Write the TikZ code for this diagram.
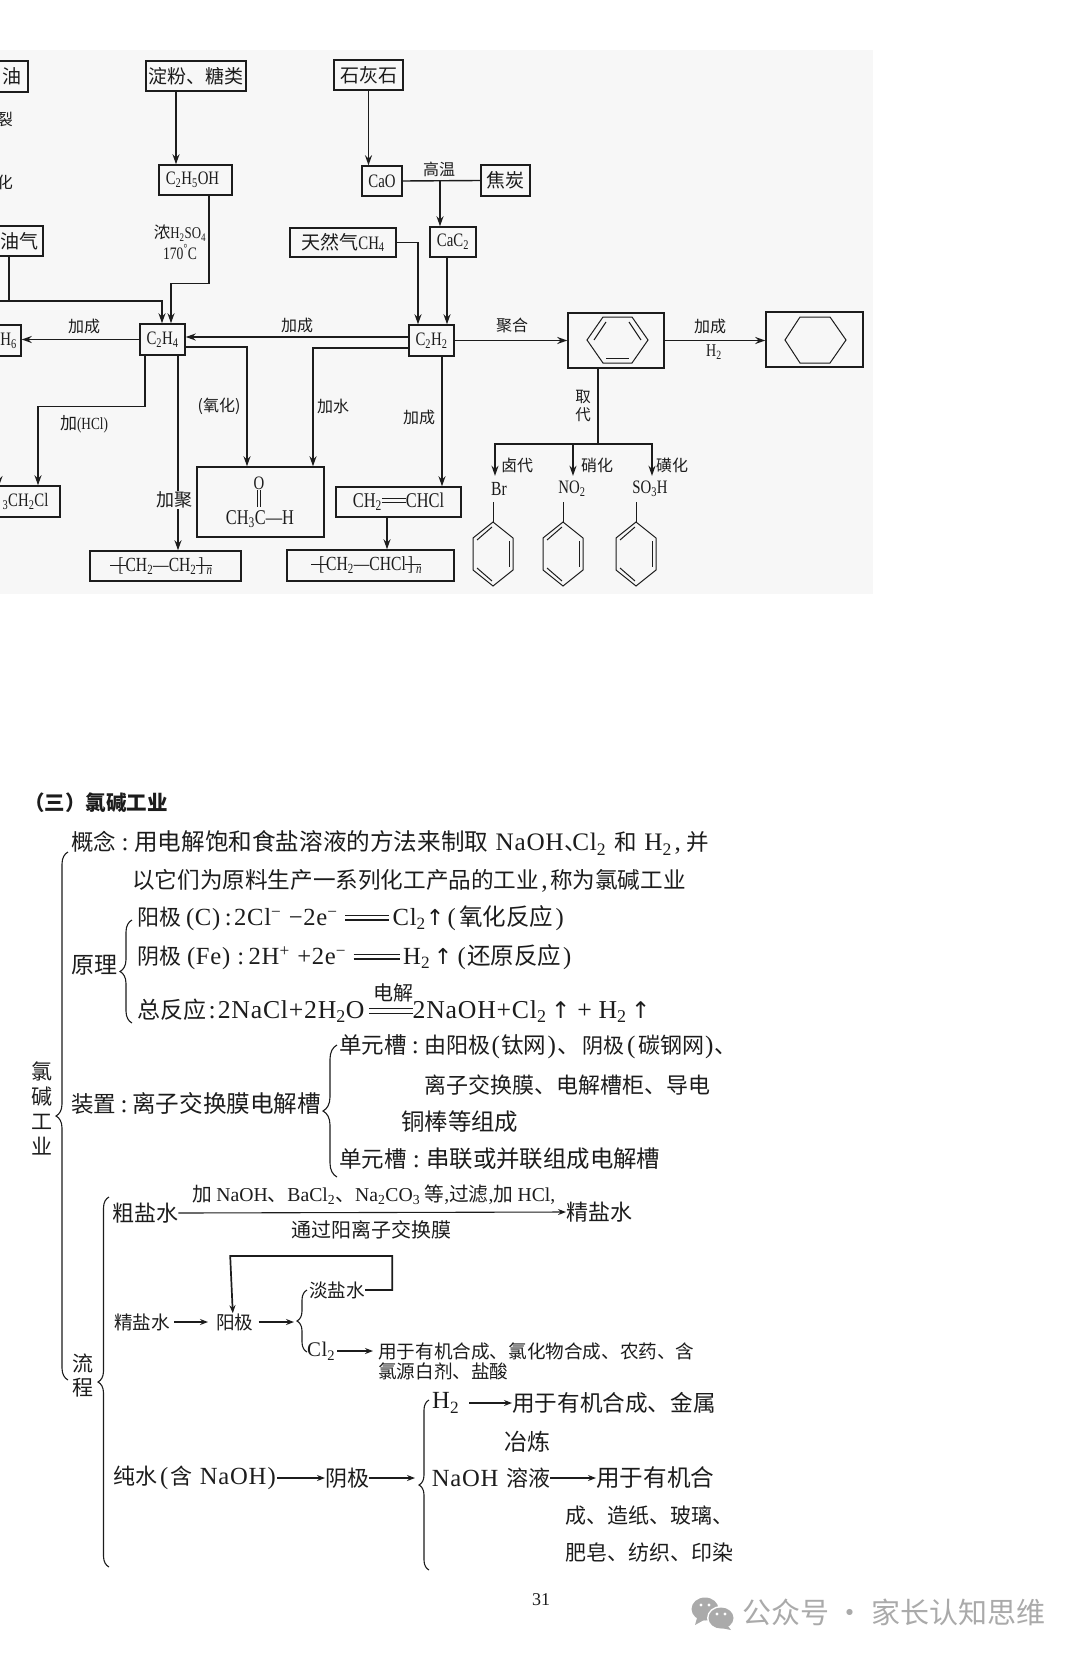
\documentclass[tikz,border=0pt]{standalone}
\usepackage{fontspec}
\setmainfont{Noto Sans CJK SC}
\newfontfamily\latn{Liberation Serif}
\newfontfamily\latc[FakeStretch=0.78]{Liberation Serif}
\newfontfamily\latw[Scale=1.12,LetterSpace=3]{Liberation Serif}
\newfontfamily\symb{DejaVu Sans}
\usepackage{tikz}
\usetikzlibrary{arrows.meta,decorations.pathreplacing}
\definecolor{panelgray}{RGB}{247,247,247}
\definecolor{ink}{RGB}{28,28,28}
\definecolor{markgray}{RGB}{170,170,170}
% formula pieces
\newcommand{\tc}[1]{{\latc #1}}
\newcommand{\tn}[1]{{\latn #1}}
\newcommand{\dn}[1]{\textsubscript{#1}}
\newcommand{\up}[1]{\textsuperscript{#1}}
\newcommand{\wb}[2]{\makebox[#1]{\latw #2}}
\newcommand{\fs}[2]{{\fontsize{#1}{26}\selectfont #2}}
\newcommand{\upa}[1]{\makebox[#1]{\symb ↑}}
\newcommand{\dun}{\makebox[11pt][l]{、}}
\newcommand{\eqsign}[1]{\raisebox{.22em}{\rlap{\rule{#1}{1.1pt}}\raisebox{.2em}{\rule{#1}{1.1pt}}}}
\newcommand{\lbar}{\makebox[0pt][c]{\rule[.28em]{.8em}{.8pt}}[\kern2pt}
\newcommand{\rbar}{\kern2pt]\makebox[0pt][c]{\rule[.28em]{.8em}{.8pt}}\kern3pt}
\tikzset{
  chembox/.style={draw=ink, line width=1.5pt, inner sep=0pt, text=ink, font=\fontsize{19}{22}\selectfont},
  lab/.style={inner sep=0pt, text=ink, font=\fontsize{16}{19}\selectfont},
  flow/.style={draw=ink, line width=1.4pt, -{Stealth[length=10pt,width=7pt]}},
  link/.style={draw=ink, line width=1.4pt},
  ring/.style={draw=ink, line width=1pt},
  txt/.style={inner sep=0pt, anchor=west, text=ink, font=\fontsize{22}{26}\selectfont},
  subtxt/.style={inner sep=0pt, anchor=west, text=ink, font=\fontsize{18.6}{22}\selectfont},
  vert/.style={inner sep=0pt, align=center, text=ink},
  thin flow/.style={draw=ink, line width=1.1pt, -{Stealth[length=8pt,width=6pt]}},
  bracket/.style={draw=ink, line width=1.1pt, decorate, decoration={brace, amplitude=#1}}
}
\begin{document}
\begin{tikzpicture}[x=1pt,y=-1pt]
    \useasboundingbox (0,0) rectangle (1080,1656);
    \fill[panelgray] (0,50) rectangle (873,594);
    % Boxes of the reaction chart
    \node[chembox, minimum width=32pt, minimum height=31pt] (petrol) at (12,76.5) {油};
    \node[chembox, minimum width=47pt, minimum height=30pt] (crackgas) at (19.5,241) {油气};
    \node[chembox, minimum width=25pt, minimum height=31pt] (ethane) at (8.5,340.5) {\tc{H\dn{6}}};
    \node[chembox, minimum width=64pt, minimum height=31pt] (ethcl) at (28,501.5) {\tc{\dn{3}CH\dn{2}Cl}\kern5pt};
    \node[chembox, minimum width=100pt, minimum height=30pt] (starch) at (196,76) {淀粉、糖类};
    \node[chembox, minimum width=69pt, minimum height=30pt] (limestone) at (368.5,75) {石灰石};
    \node[chembox, minimum width=73pt, minimum height=30pt] (ethanol) at (195.5,180) {\tc{C\dn{2}H\dn{5}OH}\kern6pt};
    \node[chembox, minimum width=40pt, minimum height=30pt] (cao) at (382,181) {\tc{CaO}};
    \node[chembox, minimum width=49pt, minimum height=31pt] (coke) at (505.5,180.5) {焦炭};
    \node[chembox, minimum width=46pt, minimum height=30pt] (carbide) at (453,242) {\tc{CaC\dn{2}}};
    \node[chembox, minimum width=106pt, minimum height=29pt] (natgas) at (343,242.5) {天然气\tc{CH\dn{4}}};
    \node[chembox, minimum width=45pt, minimum height=31pt] (ethene) at (162.5,339.5) {\tc{C\dn{2}H\dn{4}}};
    \node[chembox, minimum width=45pt, minimum height=31pt] (ethyne) at (431.5,340.5) {\tc{C\dn{2}H\dn{2}}};
    \node[chembox, minimum width=96pt, minimum height=55pt] (benzene) at (616,340.5) {};
    \node[chembox, minimum width=97pt, minimum height=55pt] (cyclo) at (814.5,339.5) {};
    \node[chembox, minimum width=127pt, minimum height=70pt] (aldehyde) at (260.5,502) {};
    \node[chembox, minimum width=125pt, minimum height=30pt, font=\fontsize{21}{24}\selectfont] (vinyl) at (398.5,502) {\tc{CH\dn{2}\eqsign{24pt}CHCl}};
    \node[chembox, minimum width=151pt, minimum height=30pt, font=\fontsize{20}{24}\selectfont] (polye) at (165.5,566) {\tc{\lbar CH\dn{2}—CH\dn{2}\rbar\dn{\itshape n}}};
    \node[chembox, minimum width=167pt, minimum height=31pt, font=\fontsize{20}{24}\selectfont] (pvc) at (370.5,565.5) {\tc{\lbar CH\dn{2}—CHCl\rbar\dn{\itshape n}}};
    % Product labels under the fork
    \node[lab, minimum height=26pt, font=\fontsize{20}{22}\selectfont] (brsub) at (499,489) {\tc{Br}};
    \node[lab, minimum height=26pt, font=\fontsize{19}{22}\selectfont] (nosub) at (572,489) {\tc{NO\dn{2}}};
    \node[lab, minimum height=26pt, font=\fontsize{19}{22}\selectfont] (sosub) at (650,489) {\tc{SO\dn{3}H}};
    \coordinate (fork) at (598,444);
    \coordinate (gasline) at (-4,301);
    \coordinate (cutarrow) at (-1,450);
    % Connectors of the reaction chart
    \draw[flow] ([xshift=-20pt]starch.south) -- ([xshift=-20pt]starch.south |- ethanol.north);
    \draw[flow] (limestone.south) -- (limestone.south |- cao.north);
    \draw[link] (cao.east) -- (coke.west);
    \draw[flow] ([xshift=-13pt]carbide.north |- cao.east) -- ([xshift=-13pt]carbide.north);
    \draw[flow] ([xshift=13.5pt]ethanol.south) -- ++(0,88) -| ([xshift=8.5pt]ethene.north);
    \draw[link] ([xshift=-10.5pt]crackgas.south) -- ([xshift=-10.5pt]crackgas.south |- gasline);
    \draw[flow] (gasline) -| ([xshift=-0.5pt]ethene.north);
    \draw[flow] (ethene.west) -- (ethane.east |- ethene.west);
    \draw[flow] ([yshift=3.5pt]ethyne.west) -- ([yshift=3.5pt]ethyne.west -| ethene.east);
    \draw[flow] ([yshift=-7.5pt]ethyne.west) -| ([xshift=52.5pt]aldehyde.north);
    \draw[flow] ([yshift=-7.5pt]ethene.east) -| ([xshift=-13.5pt]aldehyde.north);
    \draw[flow] ([xshift=-17.5pt]ethene.south) -- ++(0,51) -| ([xshift=10pt]ethcl.north);
    \draw[flow] ([xshift=15.5pt]ethene.south) -- ([xshift=15.5pt]ethene.south |- polye.north);
    \draw[flow] (natgas.east) -| ([xshift=-13.5pt]ethyne.north);
    \draw[flow] ([xshift=-6pt]carbide.south) -- ([xshift=-6pt]carbide.south |- ethyne.north);
    \draw[flow] ([xshift=10.5pt]ethyne.south) -- ([xshift=10.5pt]ethyne.south |- vinyl.north);
    \draw[flow] ([xshift=-11.5pt]vinyl.south) -- ([xshift=-11.5pt]vinyl.south |- pvc.north);
    \draw[flow] (ethyne.east) -- (benzene.west);
    \draw[flow] (benzene.east) -- (benzene.east -| cyclo.west);
    \draw[link] ([xshift=-18pt]benzene.south) -- (fork);
    \draw[flow] (fork) -| ([xshift=-4pt]brsub.north);
    \draw[flow] (fork) -| ([xshift=1pt]nosub.north);
    \draw[flow] (fork) -| ([xshift=2pt]sosub.north);
    \draw[flow] (cutarrow) -- ++(0,36);
    % Labels of the reaction chart
    \node[lab] (lcrack) at (5,119) {裂};
    \node[lab] (lchem) at (5,182) {化};
    \node[lab] (lhot) at (439,169) {高温};
    \node[lab, font=\fontsize{16.5}{18}\selectfont] (lacid) at (180,233) {浓\tc{H\dn{2}SO\dn{4}}};
    \node[lab, font=\fontsize{17.5}{18}\selectfont] (ltemp) at (180,252) {\tc{170\up{°}C}};
    \node[lab] (laddl) at (84,326) {加成};
    \node[lab] (laddm) at (297,325) {加成};
    \node[lab] (lpoly) at (512,325) {聚合};
    \node[lab] (laddr) at (710,326) {加成};
    \node[lab, font=\fontsize{18}{19}\selectfont] (lhyd) at (714,352) {\tc{H\dn{2}}};
    \node[lab, align=center, font=\fontsize{15.5}{18}\selectfont] (lsubst) at (583,406) {取\\代};
    \node[lab] (laddv) at (419,417) {加成};
    \node[lab] (lwater) at (333,406) {加水};
    \node[lab] (loxid) at (219,406) {(氧化)};
    \node[lab, font=\fontsize{17}{19}\selectfont] (lhcl) at (84,424) {加\tc{(HCl)}};
    \node[lab] (lhal) at (517,465) {卤代};
    \node[lab] (lnit) at (597,465) {硝化};
    \node[lab] (lsul) at (672,465) {磺化};
    \node[lab, fill=panelgray, inner ysep=1pt, font=\fontsize{18}{21}\selectfont] (laddp) at (174,500) {加聚};
    % Aldehyde formula
    \node[lab, font=\fontsize{19}{21}\selectfont] (aldo) at (259,483) {\tc{O}};
    \node[lab, font=\fontsize{21}{23}\selectfont] (aldc) at (260,519) {\tc{CH\dn{3}C—H}};
    \draw[ring, shorten >=3pt] ([xshift=-1.5pt]aldo.south) -- ([xshift=-1.5pt]aldo.south |- aldc.north);
    \draw[ring, shorten >=3pt] ([xshift=1.5pt]aldo.south) -- ([xshift=1.5pt]aldo.south |- aldc.north);
    % Rings in the boxes
    \draw[ring] (587,340) -- (603,317) -- (632,317) -- (648,340) -- (632,363) -- (603,363) -- cycle;
    \draw[ring] (594,340) -- (606,322);
    \draw[ring] (641,340) -- (629,322);
    \draw[ring] (606,358) -- (629,358);
    \draw[ring] (785,340) -- (800,317) -- (830,317) -- (846,340) -- (830,363) -- (800,363) -- cycle;
    % Rings under the fork
    \foreach \cx/\tag in {493/brsub, 563/nosub, 636/sosub} {
      \draw[ring] (\cx,522) -- (\cx+20,538) -- (\cx+20,570) -- (\cx,586) -- (\cx-20,570) -- (\cx-20,538) -- cycle;
      \draw[ring] (\cx-16,540) -- (\cx-1,527);
      \draw[ring] (\cx+16,541) -- (\cx+16,567);
      \draw[ring] (\cx-16,568) -- (\cx-1,581);
      \draw[ring] (\cx,522) -- (\cx,502);
    }
    % Title and the outline text
    \node[txt, font=\fontsize{20.5}{24}\selectfont\bfseries] (title) at (24,803) {（三）氯碱工业};
    \node[vert, font=\fontsize{21}{25}\selectfont] (mainword) at (42,1108) {氯\\碱\\工\\业};
    \node[txt, font=\fontsize{22.5}{26}\selectfont] (concept) at (71,843) {概念\wb{18pt}{:}\fs{23.6}{用电解饱和食盐溶液的方法来制取}\hspace{9pt}\wb{65pt}{NaOH}\hspace{2pt}\dun\wb{28pt}{Cl\dn{2}}\hspace{11pt}和\hspace{9pt}\wb{25pt}{H\dn{2}}\wb{14pt}{,}\hspace{2pt}并};
    \node[txt, font=\fontsize{22.6}{26}\selectfont] (conceptb) at (132,881) {以它们为原料生产一系列化工产品的工业\wb{11pt}{,}称为氯碱工业};
    \node[txt, font=\fontsize{23}{26}\selectfont] (principle) at (71,965) {原理};
    \node[txt] (anode) at (137,918) {阳极\wb{44pt}{(C)}\wb{6pt}{:}\wb{53pt}{2Cl\up{−}}\wb{58pt}{−2e\up{−}}\makebox[50pt]{\eqsign{44pt}}\wb{34pt}{Cl\dn{2}}\upa{18pt}\wb{15pt}{(}\fs{23.5}{氧化反应}\wb{13pt}{)}};
    \node[txt] (cathode) at (137,957) {阴极\wb{55pt}{(Fe)}\wb{9pt}{:}\wb{48pt}{2H\up{+}}\wb{57pt}{+2e\up{−}}\makebox[53pt]{\eqsign{46pt}}\wb{27pt}{H\dn{2}}\upa{26pt}\wb{11pt}{(}\fs{23.5}{还原反应}\wb{12pt}{)}};
    \node[txt, font=\fontsize{23}{26}\selectfont] (overall) at (137,1011) {总反应\wb{12pt}{:}\wb{146pt}{2NaCl+2H\dn{2}O}\hspace{5pt}\eqsign{44pt}\wb{133pt}{2NaOH+Cl\dn{2}}\hspace{9pt}\upa{11pt}\hspace{9pt}\wb{19pt}{+}\hspace{5pt}\wb{27pt}{H\dn{2}}\hspace{9pt}\upa{11pt}};
    \node[subtxt, font=\fontsize{20}{24}\selectfont] (electro) at (373,993) {电解};
    \node[txt, font=\fontsize{22.5}{26}\selectfont] (device) at (71,1103) {装置\wb{16pt}{:}\fs{23.6}{离子交换膜电解槽}};
    \node[txt, font=\fontsize{22.5}{26}\selectfont] (cella) at (339,1047) {单元槽\wb{17.5pt}{:}\fs{22}{由阳极}\wb{11pt}{(}钛网\wb{11pt}{)}\dun\hspace{14pt}\fs{21}{阴极}\wb{14pt}{(}\fs{22}{碳钢网}\wb{10pt}{)}、};
    \node[txt] (cellb) at (424,1085) {离子交换膜、电解槽柜、导电};
    \node[txt, font=\fontsize{23.4}{26}\selectfont] (cellc) at (401,1122) {铜棒等组成};
    \node[txt, font=\fontsize{22.5}{26}\selectfont] (celld) at (339,1159) {单元槽\wb{19.5pt}{:}\fs{23.4}{串联或并联组成电解槽}};
    \node[vert, font=\fontsize{21}{24}\selectfont] (process) at (83,1375) {流\\程};
    % Flow part of the outline
    \node[txt] (crude) at (112,1213) {粗盐水};
    \node[txt] (refined) at (566,1212) {精盐水};
    \node[subtxt, font=\fontsize{19.7}{22}\selectfont] (addtop) at (192,1195) {加 \tn{NaOH}、\tn{BaCl\dn{2}}、\tn{Na\dn{2}CO\dn{3}} 等\tn{,}过滤\tn{,}加 \tn{HCl,}};
    \node[subtxt, font=\fontsize{20}{24}\selectfont] (addbot) at (291,1230) {通过阳离子交换膜};
    \node[subtxt] (refinedb) at (114,1322) {精盐水};
    \node[subtxt] (anodeb) at (216,1322) {阳极};
    \node[subtxt] (dilute) at (309,1290) {淡盐水};
    \node[subtxt] (chlor) at (308,1351) {\wb{26pt}{Cl\dn{2}}};
    \node[subtxt] (usea) at (378,1351) {用于有机合成、氯化物合成、农药、含};
    \node[subtxt] (useb) at (378,1371) {氯源白剂、盐酸};
    \node[txt] (water) at (113,1478) {纯水\hspace{2pt}\wb{10pt}{(}\hspace{1pt}含\hspace{11pt}\wb{60pt}{NaOH}\hspace{3pt}\wb{11pt}{)}};
    \node[txt] (cathodeb) at (325,1478) {阴极};
    \node[txt] (hydro) at (433,1403) {\wb{25pt}{H\dn{2}}};
    \node[txt, font=\fontsize{22.6}{26}\selectfont] (usec) at (512,1403) {用于有机合成、金属};
    \node[txt, font=\fontsize{23}{26}\selectfont] (used) at (504,1442) {冶炼};
    \node[txt] (soda) at (433,1478) {\wb{64pt}{NaOH}\hspace{9pt}溶液};
    \node[txt, font=\fontsize{23.6}{26}\selectfont] (usee) at (596,1478) {用于有机合};
    \node[txt, font=\fontsize{21}{26}\selectfont] (usef) at (565,1516) {成、造纸、玻璃、};
    \node[txt, font=\fontsize{21}{26}\selectfont] (useg) at (565,1553) {肥皂、纺织、印染};
    \coordinate (forkb) at (294,1322);
    \coordinate (forkc) at (415,1478);
    % Flow arrows
    \draw[thin flow] (crude.east) -- (refined.west);
    \draw[thin flow, line width=1.5pt] (refinedb.east) ++(4,0) -- ([xshift=-8pt]anodeb.west);
    \draw[thin flow, line width=1.5pt] ([xshift=5pt]anodeb.east) -- (forkb);
    \draw[thin flow, line width=1.5pt] ([xshift=3pt]chlor.east) -- ([xshift=-5pt]usea.west);
    \draw[thin flow] ([xshift=11pt]hydro.east) -- (usec.west);
    \draw[thin flow] (water.east) -- (cathodeb.west);
    \draw[thin flow] (cathodeb.east) -- (forkc);
    \draw[thin flow] (soda.east) -- (usee.west);
    \draw[draw=ink, line width=1.7pt, -{Stealth[length=8pt,width=6pt]}] (dilute.east) -- ++(27,0) |- ++(-162,-34) -- ([xshift=-2pt]anodeb.north);
    % Braces
    \draw[bracket=12pt] (68,1380) -- (68,852);
    \draw[bracket=12pt] (132,1023) -- (132,920);
    \draw[bracket=14pt] (337,1177) -- (337,1045);
    \draw[bracket=11pt] (109,1567) -- (109,1197);
    \draw[bracket=10pt] (307,1352) -- (307,1290);
    \draw[bracket=10pt] (429,1570) -- (429,1400);
    % Page number and the mark
    \node[lab, font=\fontsize{18}{20}\selectfont] (pageno) at (541,1600) {\tn{31}};
    \fill[markgray] (705,1609) ellipse (13.5 and 11.5);
    \fill[markgray] (697,1618) -- (695,1625) -- (704,1620) -- cycle;
    \fill[white] (721,1618) ellipse (14 and 12);
    \fill[markgray] (721,1618) ellipse (12.5 and 10.5);
    \fill[markgray] (728,1626) -- (731,1630) -- (721,1628) -- cycle;
    \foreach \ex/\ey in {701/1605, 709/1605, 717/1614, 725/1614} {
      \fill[white] (\ex,\ey) circle (1.6);
    }
    \node[txt, text=markgray, font=\fontsize{29}{32}\selectfont] (mark) at (742,1612) {公众号 · 家长认知思维};
\end{tikzpicture}
\end{document}
